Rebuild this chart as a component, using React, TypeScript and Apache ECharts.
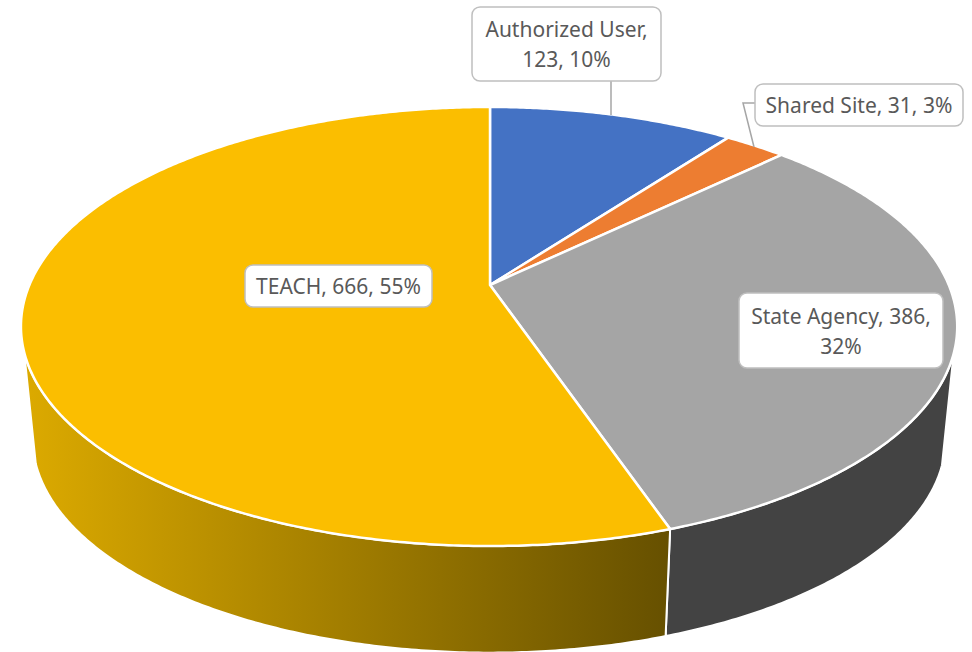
import React, { useEffect, useRef } from "react";
import * as echarts from "echarts";

const categories = ["Authorized User", "Shared Site", "State Agency", "TEACH"];
const values = [123, 31, 386, 666];

const faceColors = ["#4472C4", "#ED7D31", "#A5A5A5", "#FBBE00"];
const wallFills: any[] = [
  "#2F5597",
  "#AE5A21",
  "#434343",
  {
    type: "linear", x: 0, y: 0, x2: 1, y2: 0,
    colorStops: [
      { offset: 0, color: "#DCAA00" },
      { offset: 1, color: "#665000" },
    ],
  },
];

// Label layout (box corners, line-broken text after this many comma-parts)
const labelBoxes = [
  { x: 472, y: 7, w: 189, h: 74, breakAfter: 1, fill: "#fff" },
  { x: 755, y: 84, w: 208, h: 42, breakAfter: 0, fill: "#fff" },
  { x: 739, y: 293, w: 204, h: 75, breakAfter: 2, fill: "#fff" },
  { x: 245, y: 265, w: 187, h: 42, breakAfter: 0, fill: "#fff" },
];
const leaders: number[][][] = [
  [[611, 81], [611, 115]],
  [[755, 103], [743, 103], [754, 147]],
];

// Projection of the tilted disc on the page
const APEX = { x: 490, y: 285 };
const P = -0.189;
const A = 211.7;
const B_RIGHT = 458.8;
const B_LEFT = 460.6;
const CY = 326.5;
const CX = 489.5;
const DROP_Y = 438.6;
const DROP_SCALE = 0.975;
const SILHOUETTE_Y = 352;

const total = values.reduce((a, b) => a + b, 0);
const toAngle = (v: number) => (v / total) * Math.PI * 2;
const startOf = (i: number) => toAngle(values.slice(0, i).reduce((a, b) => a + b, 0));

function rim(t: number): number[] {
  const u = Math.sin(t);
  const v = -Math.cos(t);
  const d = 1 + P * v;
  return [APEX.x + ((u < 0 ? B_LEFT : B_RIGHT) * u) / d, APEX.y + (A * v) / d];
}
function drop(p: number[]): number[] {
  return [CX + DROP_SCALE * (p[0] - CX), DROP_Y + DROP_SCALE * (p[1] - CY)];
}
function arc(t0: number, t1: number): number[][] {
  const n = Math.max(2, Math.ceil(((t1 - t0) / Math.PI) * 360));
  const pts: number[][] = [];
  for (let i = 0; i <= n; i++) pts.push(rim(t0 + ((t1 - t0) * i) / n));
  return pts;
}

function renderFace(params: any, api: any) {
  const i = params.dataIndex;
  const t0 = startOf(i);
  const t1 = t0 + toAngle(api.value(0));
  return {
    type: "polygon",
    shape: { points: [[APEX.x, APEX.y], ...arc(t0, t1)] },
    style: { fill: faceColors[i], stroke: "#fff", lineWidth: 2.5, lineJoin: "round" },
  };
}

function renderWall(params: any, api: any) {
  const i = params.dataIndex;
  const t0 = startOf(i);
  const t1 = t0 + toAngle(api.value(0));
  const top = arc(t0, t1).filter((p) => p[1] >= SILHOUETTE_Y);
  if (top.length < 2) return null;
  const bottom = top.map(drop).reverse();
  return {
    type: "polygon",
    shape: { points: [...top, ...bottom] },
    style: { fill: wallFills[i], stroke: "#fff", lineWidth: 2, lineJoin: "round" },
  };
}

function labelText(i: number): string {
  const parts = [categories[i], String(values[i]), Math.round((values[i] / total) * 100) + "%"];
  const brk = labelBoxes[i].breakAfter;
  if (!brk) return parts.join(", ");
  return parts.slice(0, brk).join(", ") + ",\n" + parts.slice(brk).join(", ");
}

function renderLabel(params: any) {
  const i = params.dataIndex;
  const b = labelBoxes[i];
  return {
    type: "group",
    children: [
      {
        type: "rect",
        shape: { x: b.x, y: b.y, width: b.w, height: b.h, r: 8 },
        style: { fill: b.fill, stroke: "#BFBFBF", lineWidth: 1.5 },
      },
      {
        type: "text",
        style: {
          x: b.x + b.w / 2,
          y: b.y + b.h / 2,
          text: labelText(i),
          textAlign: "center",
          textVerticalAlign: "middle",
          fontFamily: "'Noto Sans'",
          fontSize: 21,
          lineHeight: 30,
          fill: "#595959",
        },
      },
    ],
  };
}

function renderLeader(params: any) {
  return {
    type: "polyline",
    shape: { points: leaders[params.dataIndex] },
    style: { fill: "none", stroke: "#A6A6A6", lineWidth: 1.5 },
  };
}

export default function App() {
  const ref = useRef<HTMLDivElement>(null);
  useEffect(() => {
    const chart = echarts.init(ref.current!, undefined, { renderer: "svg" });
    const data = categories.map((name, i) => ({ name, value: [values[i]] }));
    chart.setOption({
      animation: false,
      backgroundColor: "#fff",
      series: [
        { type: "custom", coordinateSystem: "none", z: 1, renderItem: renderWall, data, silent: true },
        { type: "custom", coordinateSystem: "none", z: 2, renderItem: renderFace, data, silent: true },
        { type: "custom", coordinateSystem: "none", z: 3, renderItem: renderLeader, data: leaders.map((_, i) => [i]), silent: true },
        { type: "custom", coordinateSystem: "none", z: 4, renderItem: renderLabel, data, silent: true },
      ],
    });
    return () => chart.dispose();
  }, []);
  return <div ref={ref} style={{ position: "fixed", left: 0, top: 0, width: 972, height: 652 }} />;
}
